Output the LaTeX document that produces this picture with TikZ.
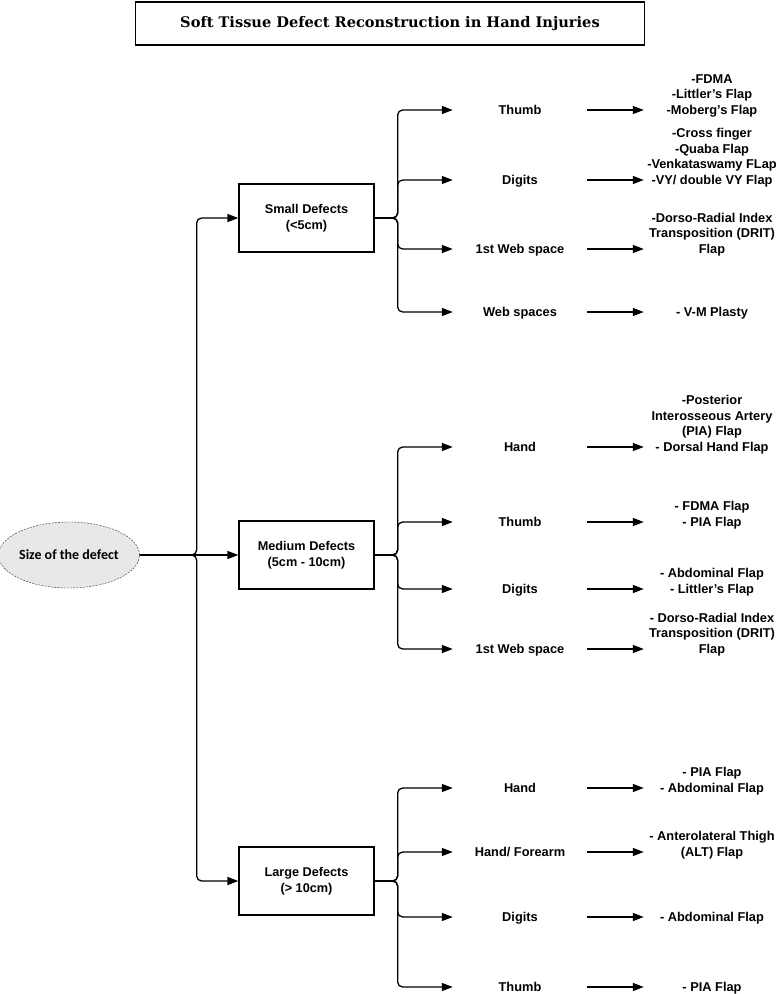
\documentclass[tikz,border=0pt]{standalone}
\usepackage{fontspec}
\setsansfont{Liberation Sans}
\newfontfamily\titlefont{DejaVu Serif}
\newfontfamily\ovalfont{Carlito}
\usepackage{tikz}
\usetikzlibrary{shapes.geometric, arrows.meta, positioning, calc}
\definecolor{ovalgray}{RGB}{232,232,232}
\tikzset{
  title/.style={
    rectangle, draw, line width=1.6pt,
    minimum width=509pt, minimum height=43pt,
    font=\titlefont\bfseries\fontsize{14.6}{17}\selectfont
  },
  defect/.style={
    ellipse, draw=black!80, dash pattern=on 2pt off 1.2pt, fill=ovalgray,
    minimum width=134pt, minimum height=66pt, inner sep=0pt,
    font=\ovalfont\bfseries\fontsize{14}{16}\selectfont
  },
  sizebox/.style={
    rectangle, draw, line width=1.3pt,
    minimum width=135pt, minimum height=68pt,
    align=center, font=\sffamily\bfseries\fontsize{12.7}{15.5}\selectfont
  },
  site/.style={
    inner sep=0pt, minimum width=134pt,
    text height=9pt, text depth=0pt,
    font=\sffamily\bfseries\fontsize{12.8}{15.5}\selectfont
  },
  flap/.style={
    inner sep=0pt, minimum width=136pt, anchor=south,
    align=center, text depth=3pt,
    font=\sffamily\bfseries\fontsize{12.8}{15.5}\selectfont
  },
  arrow/.style={line width=1.3pt, -{Triangle[length=11pt,width=8pt]}},
  branch/.style={arrow, rounded corners=5pt},
}

\begin{document}
\begin{tikzpicture}[x=1pt, y=-1pt]
  \useasboundingbox (0,0) rectangle (779,994);

  \node (title)  [title]   at (390,23.5) {Soft Tissue Defect Reconstruction in Hand Injuries};
  \node (size)   [defect]  at (69,555)   {Size of the defect};
  \node (small)  [sizebox] at (306.5,218) {Small Defects\\(<5cm)};
  \node (medium) [sizebox] at (306.5,555) {Medium Defects\\(5cm - 10cm)};
  \node (large)  [sizebox] at (306.5,881) {Large Defects\\(> 10cm)};

  % small defects
  \node (sThumb) [site] at (520,110) {Thumb};
  \node (sDig)   [site] at (520,180) {Digits};
  \node (sWeb)   [site] at (520,249) {1st Web space};
  \node (sWebs)  [site] at (520,312) {Web spaces};
  \node (sThumbF) [flap] at (712,117.5) {-FDMA\\-Littler's Flap\\-Moberg's Flap};
  \node (sDigF)   [flap] at (712,187.5) {-Cross finger\\-Quaba Flap\\-Venkataswamy FLap\\-VY/ double VY Flap};
  \node (sWebF)   [flap] at (712,256.5) {-Dorso-Radial Index\\Transposition (DRIT)\\Flap};
  \node (sWebsF)  [flap] at (712,319.5) {- V-M Plasty};

  % medium defects
  \node (mHand)  [site] at (520,447) {Hand};
  \node (mThumb) [site] at (520,522) {Thumb};
  \node (mDig)   [site] at (520,589) {Digits};
  \node (mWeb)   [site] at (520,649) {1st Web space};
  \node (mHandF)  [flap] at (712,454.5) {-Posterior\\Interosseous Artery\\(PIA) Flap\\- Dorsal Hand Flap};
  \node (mThumbF) [flap] at (712,529.5) {- FDMA Flap\\- PIA Flap};
  \node (mDigF)   [flap] at (712,596.5) {- Abdominal Flap\\- Littler's Flap};
  \node (mWebF)   [flap] at (712,656.5) {- Dorso-Radial Index\\Transposition (DRIT)\\Flap};

  % large defects
  \node (lHand)  [site] at (520,788) {Hand};
  \node (lFore)  [site] at (520,852) {Hand/ Forearm};
  \node (lDig)   [site] at (520,917) {Digits};
  \node (lThumb) [site] at (520,987) {Thumb};
  \node (lHandF)  [flap] at (712,795.5) {- PIA Flap\\- Abdominal Flap};
  \node (lForeF)  [flap] at (712,859.5) {- Anterolateral Thigh\\(ALT) Flap};
  \node (lDigF)   [flap] at (712,924.5) {- Abdominal Flap};
  \node (lThumbF) [flap] at (712,994.5) {- PIA Flap};

  \draw [arrow]  (size) -- (medium);
  \draw [branch] (size.east) -- ++(57,0) |- (small.west);
  \draw [branch] (size.east) -- ++(57,0) |- (large.west);

  \foreach \grp/\a/\b/\c/\d in {small/sThumb/sDig/sWeb/sWebs,
                                medium/mHand/mThumb/mDig/mWeb,
                                large/lHand/lFore/lDig/lThumb}{
    \foreach \s in {\a,\b,\c,\d}
      \draw [branch] (\grp.east) -- ++(23,0) |- (\s.west);
  }

  \foreach \s in {sThumb,sDig,sWeb,sWebs,mHand,mThumb,mDig,mWeb,lHand,lFore,lDig,lThumb}
    \draw [arrow] (\s.east) -- (\s.east -| \s F.west);
\end{tikzpicture}
\end{document}
